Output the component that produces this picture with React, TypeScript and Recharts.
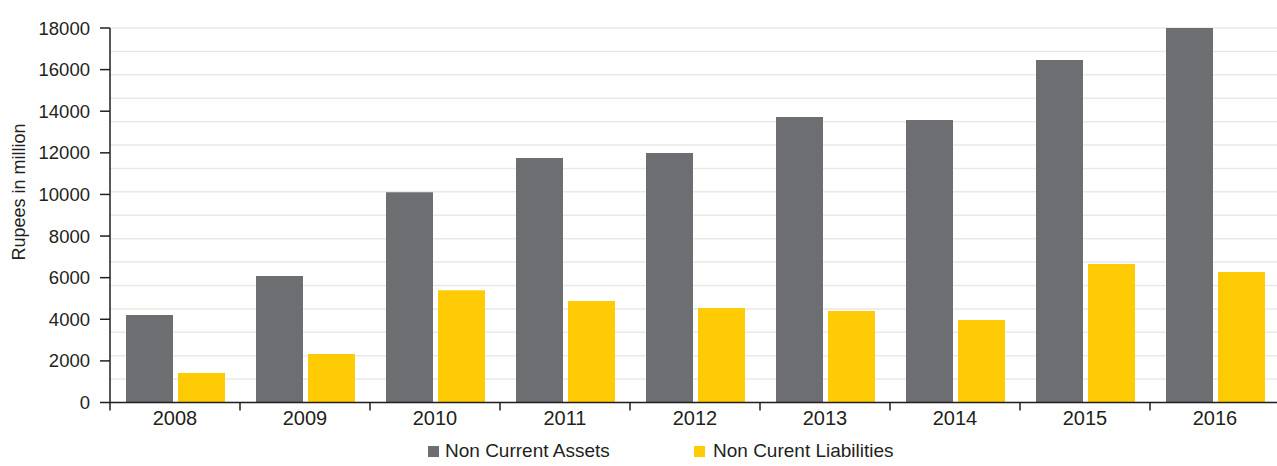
import { BarChart, Bar, XAxis, YAxis, CartesianGrid, Legend } from 'recharts';

const years = ['2008', '2009', '2010', '2011', '2012', '2013', '2014', '2015', '2016'];
const nonCurrentAssets = [4210, 6080, 10110, 11750, 11990, 13720, 13580, 16460, 18000];
const nonCurrentLiabilities = [1420, 2330, 5400, 4880, 4540, 4400, 3960, 6660, 6270];
const yTicks = [0, 2000, 4000, 6000, 8000, 10000, 12000, 14000, 16000, 18000];
// the gridlines don't follow the ticks in the original: 16 bands over the range
const gridValues = [
  0, 1125, 2250, 3375, 4500, 5625, 6750, 7875, 9000, 10125, 11250, 12375, 13500, 14625, 15750,
  16875, 18000,
];
const seriesOrder = ['assets', 'liabilities'];

const FONT = '"Liberation Sans", Arial, sans-serif';
const INK = '#231f20';
const GREY = '#6d6e71';
const YELLOW = '#ffcb05';

const chartData = years.map((year, i) => ({
  year,
  assets: nonCurrentAssets[i],
  liabilities: nonCurrentLiabilities[i],
}));

function YearTick(props: any) {
  const { x, y, payload } = props;
  const half = payload?.offset ?? 65;
  return (
    <g>
      <line x1={x - half} x2={x - half} y1={y - 8} y2={y} stroke={INK} strokeWidth={1.5} />
      <text x={x} y={y + 14} textAnchor="middle" fontSize={20} fontFamily={FONT} fill={INK}>
        {payload.value}
      </text>
    </g>
  );
}

function ChartLegend(props: any) {
  const items = [...(props.payload || [])].sort(
    (a: any, b: any) => seriesOrder.indexOf(a.dataKey) - seriesOrder.indexOf(b.dataKey)
  );
  const lefts = [428, 694];
  return (
    <div style={{ position: 'relative', height: 33, fontFamily: FONT, fontSize: 19, color: INK }}>
      {items.map((item: any, i: number) => (
        <div key={item.value}>
          <span
            style={{
              position: 'absolute',
              left: lefts[i],
              top: 13,
              width: 11,
              height: 11,
              background: item.color,
            }}
          />
          <span
            style={{
              position: 'absolute',
              left: lefts[i] + (i === 0 ? 17 : 19),
              top: 8,
              lineHeight: '19px',
              whiteSpace: 'nowrap',
            }}
          >
            {item.value}
          </span>
        </div>
      ))}
    </div>
  );
}

export default function App() {
  return (
    <div
      style={{
        position: 'absolute',
        left: 0,
        top: 0,
        width: 1277,
        height: 466,
        overflow: 'hidden',
        background: '#fff',
      }}
    >
      <BarChart
        width={1290}
        height={466}
        data={chartData}
        margin={{ top: 28, right: 10, bottom: 0, left: 0 }}
        barCategoryGap={16}
        barGap={5}
      >
        <CartesianGrid
          vertical={false}
          horizontalValues={gridValues}
          stroke="#e9e9e9"
          strokeWidth={1.5}
        />
        <XAxis
          dataKey="year"
          height={30.5}
          tickSize={8}
          tickMargin={0}
          tickLine={false}
          axisLine={{ stroke: INK, strokeWidth: 1.5 }}
          tick={<YearTick />}
        />
        <YAxis
          width={110}
          domain={[0, 18000]}
          ticks={yTicks}
          interval={0}
          tickSize={10}
          tickMargin={10}
          axisLine={{ stroke: INK, strokeWidth: 1.5 }}
          tickLine={{ stroke: INK, strokeWidth: 1.5 }}
          tick={{ fontSize: 18.5, fontFamily: FONT, fill: INK }}
          label={{
            content: () => (
              <text
                transform="translate(25,192) rotate(-90)"
                textAnchor="middle"
                fontSize={18}
                fontFamily={FONT}
                fill={INK}
              >
                Rupees in million
              </text>
            ),
          }}
        />
        <Legend verticalAlign="bottom" content={<ChartLegend />} />
        <Bar dataKey="assets" name="Non Current Assets" fill={GREY} isAnimationActive={false} />
        <Bar
          dataKey="liabilities"
          name="Non Curent Liabilities"
          fill={YELLOW}
          isAnimationActive={false}
        />
      </BarChart>
    </div>
  );
}
